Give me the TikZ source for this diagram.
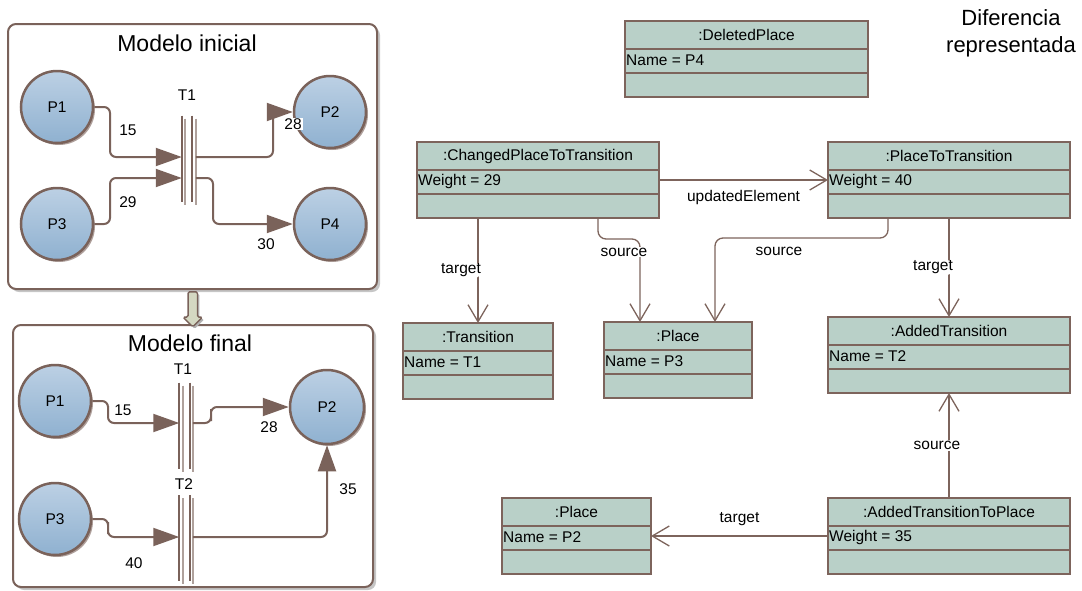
\documentclass[tikz,border=0pt]{standalone}
\usepackage{fontspec}
\setmainfont{Liberation Sans}
\usetikzlibrary{arrows.meta,shadows,shapes.arrows}

\definecolor{petri}{RGB}{122,98,90}
\definecolor{umlfill}{RGB}{185,208,200}
\definecolor{umlborder}{RGB}{125,100,92}
\definecolor{placelight}{RGB}{188,208,228}
\definecolor{placedark}{RGB}{143,177,208}
\definecolor{blockfill}{RGB}{212,216,194}

% UML object: name, top-left corner, width, class, attribute
\newcommand{\umlobj}[5]{%
  \node[umlbox, minimum width=#3, anchor=north west] (#1) at (#2) {};
  \draw[umlline] ([yshift=-28pt]#1.north west) -- ([yshift=-28pt]#1.north east);
  \draw[umlline] ([yshift=-52pt]#1.north west) -- ([yshift=-52pt]#1.north east);
  \node (#1-cls) at ([yshift=-14pt]#1.north) {#4};
  \node[anchor=west, inner sep=1pt] (#1-att) at ([yshift=-39pt]#1.north west) {#5};
}

\begin{document}
\begin{tikzpicture}[
    x=1pt, y=-1pt,
    every node/.style={font=\fontsize{15.5}{18}\selectfont, text=black},
    frame/.style={draw=petri, line width=2pt, rounded corners=8pt, fill=white,
        anchor=north west, inner sep=0pt, outer sep=0pt,
        drop shadow={shadow xshift=3pt, shadow yshift=-3pt, fill=gray!45, opacity=1}},
    title/.style={font=\fontsize{23}{26}\selectfont},
    place/.style={circle, minimum size=72pt, inner sep=0pt, draw=petri, line width=2.5pt,
        top color=placelight, bottom color=placedark,
        drop shadow={shadow xshift=2pt, shadow yshift=-2pt, fill=petri, opacity=0.6}},
    trans/.style={minimum width=10.5pt, minimum height=86pt, inner sep=0pt, outer sep=0pt},
    bar/.style={petri, line width=2.4pt},
    barshadow/.style={petri!60, line width=1.8pt},
    arc/.style={petri, line width=2pt, rounded corners=6pt},
    fire/.style={arc, -{Triangle[length=26pt, width=18pt]}},
    weight/.style={inner sep=1pt},
    blockarrow/.style={single arrow, draw=petri, fill=blockfill, line width=1.4pt,
        minimum height=35pt, minimum width=0pt, single arrow head extend=5pt,
        inner sep=4pt, rotate=-90, rounded corners=1.5pt,
        drop shadow={shadow xshift=2pt, shadow yshift=-2pt, fill=gray!60, opacity=1}},
    umlbox/.style={rectangle, draw=umlborder, fill=umlfill, line width=1.5pt,
        minimum height=76pt, inner sep=0pt, outer sep=0pt},
    umlline/.style={umlborder, line width=1.5pt},
    umlarrow/.style={umlborder, line width=1.3pt, rounded corners=8pt,
        -{Straight Barb[length=17pt, width=20pt]}},
    role/.style={fill=white, inner sep=1pt},
]
\useasboundingbox (0,0) rectangle (1082,590);

% === Modelo inicial ===
\node[frame, minimum width=369pt, minimum height=265pt] (ini) at (8,24) {};
\node[title] (ini-title) at (187,43) {Modelo inicial};

\node[place] (p1) at (57,107) {P1};
\node[place] (p2) at (330,112) {P2};
\node[place] (p3) at (57,224) {P3};
\node[place] (p4) at (330,224) {P4};
\node[trans] (t1) at (187,158.5) {};
\node (t1-lbl) at (187,95) {T1};

% === Modelo final ===
\node[frame, minimum width=360pt, minimum height=262pt] (fin) at (13,325) {};
\node[title] (fin-title) at (190,343) {Modelo final};

\node[place] (q1) at (55,401) {P1};
\node[place, minimum size=74pt] (q2) at (327,407) {P2};
\node[place] (q3) at (55,519) {P3};
\node[trans] (t1b) at (184.5,425.5) {};
\node[trans] (t2) at (184.5,538) {};
\node (t1b-lbl) at (183,369) {T1};
\node (t2-lbl) at (184,484) {T2};

% transition bars with their shadows
\foreach \t in {t1,t1b,t2} {
    \draw[barshadow] ([xshift=3.5pt,yshift=-3pt]\t.north west) -- ([xshift=3.5pt,yshift=-3pt]\t.south west);
    \draw[barshadow] ([xshift=3.5pt,yshift=-3pt]\t.north east) -- ([xshift=3.5pt,yshift=-3pt]\t.south east);
    \draw[bar] (\t.north west) -- (\t.south west);
    \draw[bar] (\t.north east) -- (\t.south east);
}

% arcs, initial model
\draw[fire] (p1.east) -| (110,130) |- ([yshift=1.5pt]t1.west);
\draw[fire] (p3.east) -| (110,200) |- ([yshift=-19.5pt]t1.west);
\draw[fire] ([xshift=3.5pt,yshift=1.5pt]t1.east) -| (273,130) |- (p2.west);
\draw[fire] ([xshift=3.5pt,yshift=-19.5pt]t1.east) -| (213,200) |- (p4.west);
\node[weight] (w15) at (128,130) {15};
\node[weight] (w29) at (128,202) {29};
\node[weight, fill=white] (w28) at (293,124) {28};
\node[weight] (w30) at (266,244) {30};

% arcs, final model
\draw[fire] (q1.east) -| (108,412) |- ([yshift=2.5pt]t1b.west);
\draw[fire] ([xshift=3pt,yshift=2.5pt]t1b.east) -| (211,415) |- (q2.west);
\draw[fire] (q3.east) -| (108,528) |- ([yshift=1pt]t2.west);
\draw[fire] ([xshift=3pt,yshift=1pt]t2.east) -| (q2.south);
\node[weight] (v15) at (123,410) {15};
\node[weight] (v28) at (269,427) {28};
\node[weight] (v40) at (134,563) {40};
\node[weight] (v35) at (348,489) {35};

% step from the initial to the final model
\path (ini.south) -- (fin.north) node[midway, blockarrow] (paso) {};

% === Diferencia representada ===
\node[font=\fontsize{22}{27}\selectfont, align=center] (diff) at (1011,33) {Diferencia\\representada};

\umlobj{del}{625,21}{243pt}{:DeletedPlace}{Name = P4}
\umlobj{chg}{417,142}{242pt}{:ChangedPlaceToTransition}{Weight = 29}
\umlobj{ptt}{828,142}{242pt}{:PlaceToTransition}{Weight = 40}
\umlobj{trn}{403,323}{150pt}{:Transition}{Name = T1}
\umlobj{plc}{604,322}{148pt}{:Place}{Name = P3}
\umlobj{addt}{828,317}{242pt}{:AddedTransition}{Name = T2}
\umlobj{plc2}{502,498}{149pt}{:Place}{Name = P2}
\umlobj{attp}{828,498}{242pt}{:AddedTransitionToPlace}{Weight = 35}

% links
\draw[umlarrow] (chg.east) -- node[yshift=-17pt] (r-upd) {updatedElement} (ptt.west);
\draw[umlarrow] (trn.north |- chg.south) -- node[role, xshift=-17pt] (r-trg1) {target} (trn.north);
\draw[umlarrow] ([xshift=-61pt]chg.south east) -- ++(0,21) -| ([xshift=36pt]plc.north west);
\node[role] (r-src1) at (624,252) {source};
\draw[umlarrow] ([xshift=60pt]ptt.south west) -- ++(0,20) -| ([xshift=-37pt]plc.north east);
\node (r-src2) at (779,251) {source};
\draw[umlarrow] (ptt.south) -- node[role, xshift=-16pt] (r-trg2) {target} (addt.north);
\draw[umlarrow] (attp.north) -- node[role, xshift=-12pt] (r-src3) {source} (addt.south);
\draw[umlarrow] (attp.west) -- node[yshift=17pt] (r-trg3) {target} (plc2.east);

\end{tikzpicture}
\end{document}
